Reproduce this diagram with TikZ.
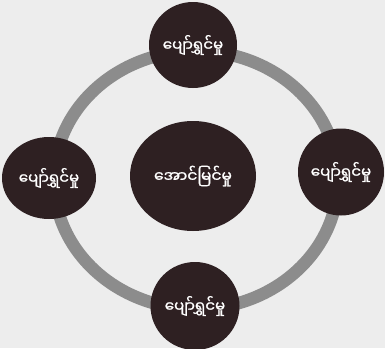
\documentclass[tikz,border=0pt]{standalone}
\usepackage{fontspec}
\newfontfamily\myfont[Script=Myanmar, FakeBold=1.2]{Noto Sans Myanmar UI}
\usetikzlibrary{shapes.geometric}
\definecolor{bg}{HTML}{EDEDED}
\definecolor{dark}{HTML}{2E2022}
\definecolor{ringc}{HTML}{8C8C8C}
\tikzset{
  blob/.style={ellipse, fill=dark, text=white, inner sep=0pt, font=\myfont\fontsize{15}{17}\selectfont},
  ring/.style={draw=ringc, line width=12.5pt}
}
\begin{document}
\begin{tikzpicture}[x=1pt, y=-1pt]
\fill[bg] (0,0) rectangle (385,348);
\useasboundingbox (0,0) rectangle (385,348);
\coordinate (rc) at (196,180);
\draw[ring] (rc) ellipse (142 and 129);
\node[blob, minimum width=126pt, minimum height=110pt, font=\myfont\fontsize{15.5}{18}\selectfont] (center) at (193,176) {အောင်မြင်မှု};
\node[blob, minimum width=88pt, minimum height=86pt] (top) at (193,45) {ပျော်ရွှင်မှု};
\node[blob, minimum width=94pt, minimum height=82pt] (left) at (49,178) {ပျော်ရွှင်မှု};
\node[blob, minimum width=86pt, minimum height=87pt] (right) at (341,172) {ပျော်ရွှင်မှု};
\node[blob, minimum width=89pt, minimum height=88pt] (bottom) at (195,306) {ပျော်ရွှင်မှု};
\end{tikzpicture}
\end{document}
